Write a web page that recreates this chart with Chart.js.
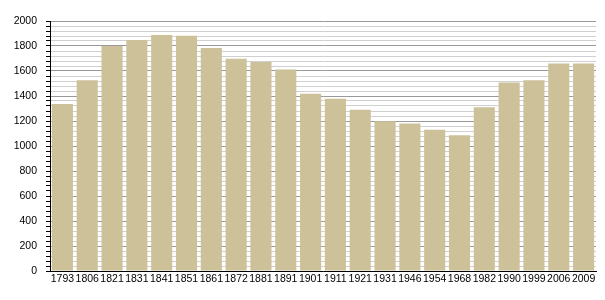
<!DOCTYPE html>
<html>
<head>
<meta charset="utf-8">
<script src="https://cdn.jsdelivr.net/npm/chart.js"></script>
<style>
  html, body { margin: 0; padding: 0; background: #fff; }
  #chart { display: block; }
</style>
</head>
<body>
<canvas id="chart" width="605" height="300"></canvas>
<script>
// data
const years = ["1793", "1806", "1821", "1831", "1841", "1851", "1861", "1872", "1881", "1891", "1901",
  "1911", "1921", "1931", "1946", "1954", "1968", "1982", "1990", "1999", "2006", "2009"];
const population = [1336, 1526, 1800, 1848, 1888, 1883, 1785, 1698, 1672, 1612, 1418,
  1379, 1290, 1199, 1180, 1130, 1087, 1311, 1508, 1527, 1660, 1660];
const yMax = 2000;
const yMinorStep = 40;
const yLabelStep = 200;

const ctx = document.getElementById("chart").getContext("2d");

const chart = new Chart(ctx, {
    type: "bar",
    data: {
        labels: years,
        datasets: [{
            data: population,
            backgroundColor: "#ccc199",
            borderWidth: 0,
            barPercentage: 0.85,
            categoryPercentage: 1.0,
        }],
    },
    options: {
        responsive: false,
        animation: false,
        layout: { padding: { top: 21, right: 9, left: 0, bottom: 0 } },
        plugins: { legend: { display: false }, tooltip: { enabled: false } },
        scales: {
            x: {
                grid: { display: false, drawTicks: false },
                border: { color: "#000", width: 1 },
                ticks: {
                    color: "#000",
                    font: { family: "Liberation Sans", size: 10.5 },
                    padding: 2,
                    maxRotation: 0,
                    autoSkip: false,
                },
                afterFit: (scale) => { scale.height = 29; },
            },
            y: {
                min: 0,
                max: yMax,
                grid: {
                    color: (c) => (c.tick && c.tick.value % yLabelStep === 0) ? "#999" : "#d0d0d0",
                    tickColor: "#000",
                    tickLength: 4,
                },
                border: { color: "#000", width: 1 },
                ticks: {
                    stepSize: yMinorStep,
                    autoSkip: false,
                    color: "#000",
                    font: { family: "Liberation Sans", size: 10.5 },
                    padding: 9,
                    callback: (v) => (v % yLabelStep === 0 ? String(v) : ""),
                },
                afterFit: (scale) => { scale.width = 50; },
            },
        },
    },
});
</script>
</body>
</html>
